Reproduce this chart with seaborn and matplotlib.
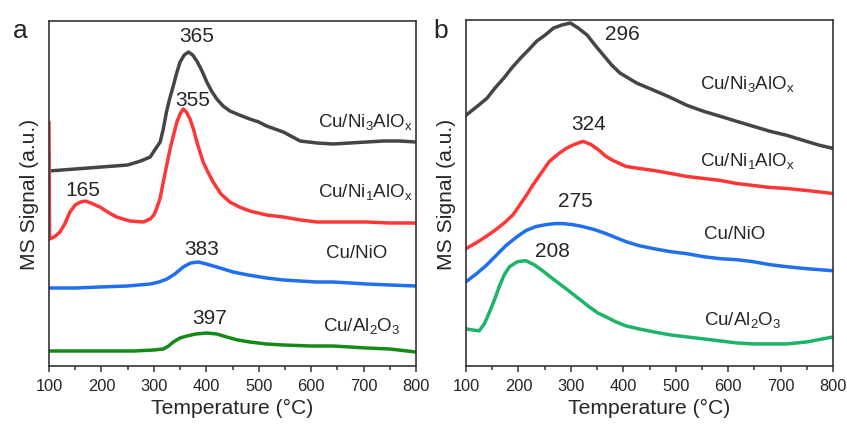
import matplotlib
matplotlib.use("Agg")
import matplotlib.pyplot as plt
from matplotlib.ticker import MultipleLocator
import seaborn as sns
import pandas as pd

# ---------------- data ----------------
# Panel a
a_ni3_T = [100, 150, 200, 250, 275, 293, 303, 312, 318, 324, 330, 337, 343, 350, 358, 366, 374, 382, 391, 401, 410, 420, 432, 445, 463, 483, 500, 515, 547, 579, 611, 642, 674, 706, 738, 769, 800]
a_ni3_S = [195, 197, 199, 201, 205, 209, 217, 224, 237, 254, 267, 280, 292, 304, 311, 314, 311, 305, 296, 284, 275, 267, 260, 255, 251, 247, 244, 240, 234, 225, 223, 222, 223, 224, 225, 225, 224]

a_ni1_T = [100, 101, 110, 121, 130, 140, 150, 160, 169, 180, 197, 215, 229, 254, 280, 293, 300, 305, 312, 318, 325, 331, 338, 344, 350, 356, 362, 369, 376, 382, 388, 394, 403, 413, 428, 445, 463, 483, 515, 547, 580, 611, 660, 706, 750, 800]
a_ni1_S = [244, 127, 129, 134, 142, 154, 161, 164, 165, 163, 159, 153, 149, 145, 144, 147, 151, 157, 168, 184, 202, 217, 232, 244, 252, 257, 254, 247, 236, 224, 214, 204, 194, 184, 172, 164, 159, 155, 151, 149, 146, 144, 144, 144, 143, 143]

a_nio_T = [100, 150, 197, 250, 293, 310, 325, 340, 356, 370, 385, 400, 420, 451, 480, 515, 547, 579, 610, 642, 675, 706, 750, 800]
a_nio_S = [78, 78, 79, 80, 82, 84, 87, 92, 99, 103, 104, 102, 99, 94, 91, 88, 86, 85, 84, 84, 83, 82, 81, 80]

a_al_T = [100, 200, 261, 300, 318, 328, 337, 350, 363, 380, 401, 420, 439, 460, 483, 515, 547, 600, 642, 706, 750, 800]
a_al_S = [15, 15, 15, 16, 17, 20, 24, 28, 30, 32, 33, 32, 29, 26, 24, 22, 21, 20, 20, 18, 17, 14]

# Panel b
b_ni3_T = [100, 124, 140, 155, 172, 187, 204, 219, 235, 251, 267, 283, 299, 314, 331, 346, 362, 378, 394, 426, 458, 489, 521, 553, 585, 616, 648, 680, 712, 743, 775, 800]
b_ni3_S = [250, 260, 267, 277, 287, 297, 307, 315, 324, 330, 337, 340, 342, 337, 330, 320, 310, 300, 292, 282, 275, 268, 260, 254, 249, 244, 239, 234, 230, 225, 220, 217]

b_ni1_T = [100, 120, 138, 157, 176, 190, 202, 215, 227, 243, 259, 275, 291, 307, 323, 338, 354, 367, 380, 405, 430, 458, 490, 521, 553, 585, 616, 648, 680, 712, 750, 800]
b_ni1_S = [117, 123, 129, 136, 144, 151, 160, 170, 180, 192, 204, 211, 217, 221, 224, 221, 215, 209, 205, 199, 197, 195, 192, 189, 187, 185, 182, 180, 178, 177, 175, 172]

b_nio_T = [100, 120, 138, 157, 176, 195, 214, 233, 253, 270, 284, 303, 323, 345, 367, 386, 405, 430, 458, 490, 521, 553, 585, 616, 648, 680, 712, 750, 800]
b_nio_S = [84, 92, 100, 110, 120, 128, 135, 139, 141, 142, 142, 141, 139, 136, 132, 128, 124, 120, 117, 114, 112, 109, 107, 106, 104, 101, 99, 97, 95]

b_al_T = [100, 112, 125, 135, 145, 155, 164, 173, 183, 198, 214, 230, 246, 268, 291, 313, 335, 351, 367, 386, 405, 430, 458, 490, 521, 553, 585, 616, 648, 680, 712, 750, 800]
b_al_S = [37, 36, 35, 42, 54, 67, 80, 91, 99, 104, 105, 101, 95, 86, 77, 68, 59, 53, 49, 44, 40, 37, 34, 31, 29, 27, 25, 23, 22, 22, 22, 24, 29]

sample_labels = [r"Cu/Ni$_\mathregular{3}$AlO$_\mathregular{x}$",
                 r"Cu/Ni$_\mathregular{1}$AlO$_\mathregular{x}$",
                 "Cu/NiO",
                 r"Cu/Al$_\mathregular{2}$O$_\mathregular{3}$"]

a_peaks = ["365", "355", "165", "383", "397"]
b_peaks = ["296", "324", "275", "208"]
xticks = [100, 200, 300, 400, 500, 600, 700, 800]

# ---------------- style ----------------
sns.set_style("ticks")
plt.rcParams["font.family"] = ["Liberation Sans", "DejaVu Sans"]
plt.rcParams["mathtext.fontset"] = "custom"
plt.rcParams["mathtext.rm"] = "Liberation Sans"
plt.rcParams["mathtext.it"] = "Liberation Sans:italic"
plt.rcParams["axes.edgecolor"] = "#333333"

c_gray = "#454545"
c_red = "#ff3636"
c_blue = "#1f6fee"
c_green_a = "#168a16"
c_green_b = "#1db36b"

fig = plt.figure(figsize=(8.47, 4.27), dpi=100)
W, H = 847, 427
axa = fig.add_axes([49 / W, (H - 367) / H, 367 / W, 345 / H])
axb = fig.add_axes([466 / W, (H - 367) / H, 367 / W, 346 / H])


def draw(ax, series):
    for T, S, col in series:
        df = pd.DataFrame({"T": T, "S": S})
        sns.lineplot(data=df, x="T", y="S", ax=ax, color=col, lw=2.5,
                     sort=False, estimator=None)


draw(axa, [(a_ni3_T, a_ni3_S, c_gray), (a_ni1_T, a_ni1_S, c_red),
           (a_nio_T, a_nio_S, c_blue), (a_al_T, a_al_S, c_green_a)])
draw(axb, [(b_ni3_T, b_ni3_S, c_gray), (b_ni1_T, b_ni1_S, c_red),
           (b_nio_T, b_nio_S, c_blue), (b_al_T, b_al_S, c_green_b)])

for ax in (axa, axb):
    ax.set_xlim(100, 800)
    ax.set_ylim(0, 345)
    ax.set_xticks(xticks)
    ax.xaxis.set_minor_locator(MultipleLocator(50))
    ax.set_yticks([])
    ax.tick_params(axis="x", which="major", direction="out", length=4.5, width=1.1,
                   labelsize=11.8, pad=4, color="#333333")
    ax.tick_params(axis="x", which="minor", direction="out", length=2.8, width=1.1,
                   color="#333333")
    for sp in ax.spines.values():
        sp.set_visible(True)
        sp.set_linewidth(1.2)
    ax.set_xlabel("Temperature (\u00b0C)", fontsize=15.2, labelpad=4)
    ax.set_ylabel("MS Signal (a.u.)", fontsize=15.2, labelpad=7)

# panel a annotations
fs_num = 15
fs_lab = 13.5
axa.text(382, 330, a_peaks[0], fontsize=fs_num, ha="center", va="center")
axa.text(375, 267, a_peaks[1], fontsize=fs_num, ha="center", va="center")
axa.text(165, 177, a_peaks[2], fontsize=fs_num, ha="center", va="center")
axa.text(392, 117, a_peaks[3], fontsize=fs_num, ha="center", va="center")
axa.text(407, 49, a_peaks[4], fontsize=fs_num, ha="center", va="center")
axa.text(794, 245, sample_labels[0], fontsize=fs_lab, ha="right", va="center")
axa.text(794, 175, sample_labels[1], fontsize=fs_lab, ha="right", va="center")
axa.text(745, 113, sample_labels[2], fontsize=fs_lab, ha="right", va="center")
axa.text(770, 41, sample_labels[3], fontsize=fs_lab, ha="right", va="center")

# panel b annotations
axb.text(398, 332, b_peaks[0], fontsize=fs_num, ha="center", va="center")
axb.text(333, 242, b_peaks[1], fontsize=fs_num, ha="center", va="center")
axb.text(308, 165, b_peaks[2], fontsize=fs_num, ha="center", va="center")
axb.text(264, 115, b_peaks[3], fontsize=fs_num, ha="center", va="center")
axb.text(636, 282, sample_labels[0], fontsize=fs_lab, ha="center", va="center")
axb.text(636, 205, sample_labels[1], fontsize=fs_lab, ha="center", va="center")
axb.text(613, 132, sample_labels[2], fontsize=fs_lab, ha="center", va="center")
axb.text(628, 47, sample_labels[3], fontsize=fs_lab, ha="center", va="center")

fig.text(20 / W, 1 - 31 / H, "a", fontsize=19, ha="center", va="center")
fig.text(441 / W, 1 - 31 / H, "b", fontsize=19, ha="center", va="center")

fig.savefig("out.png", dpi=100)
